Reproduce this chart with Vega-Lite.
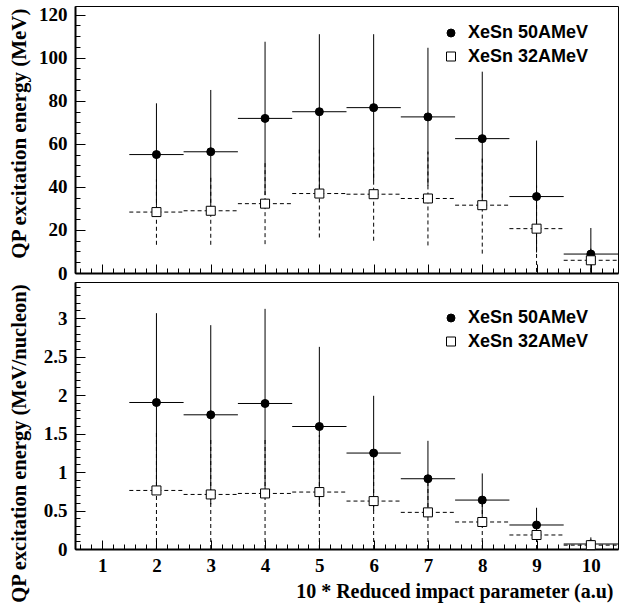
{
  "$schema": "https://vega.github.io/schema/vega-lite/v6.json",
  "padding": {"left": 7, "top": 5, "right": 0, "bottom": 0},
  "autosize": {"type": "pad"},
  "background": "white",
  "bounds": "flush",
  "spacing": 9,
  "datasets": {
    "top": [
      {"s": "XeSn 50AMeV", "b": 2, "blo": 1.5, "bhi": 2.5, "y": 55.0, "lo": 31.2, "hi": 78.8},
      {"s": "XeSn 50AMeV", "b": 3, "blo": 2.5, "bhi": 3.5, "y": 56.3, "lo": 27.6, "hi": 85.0},
      {"s": "XeSn 50AMeV", "b": 4, "blo": 3.5, "bhi": 4.5, "y": 71.8, "lo": 36.2, "hi": 107.4},
      {"s": "XeSn 50AMeV", "b": 5, "blo": 4.5, "bhi": 5.5, "y": 74.9, "lo": 38.9, "hi": 110.9},
      {"s": "XeSn 50AMeV", "b": 6, "blo": 5.5, "bhi": 6.5, "y": 76.8, "lo": 42.7, "hi": 110.9},
      {"s": "XeSn 50AMeV", "b": 7, "blo": 6.5, "bhi": 7.5, "y": 72.5, "lo": 40.4, "hi": 104.6},
      {"s": "XeSn 50AMeV", "b": 8, "blo": 7.5, "bhi": 8.5, "y": 62.4, "lo": 31.3, "hi": 93.5},
      {"s": "XeSn 50AMeV", "b": 9, "blo": 8.5, "bhi": 9.5, "y": 35.5, "lo": 9.5, "hi": 61.5},
      {"s": "XeSn 50AMeV", "b": 10, "blo": 9.5, "bhi": 10.5, "y": 8.8, "lo": 0, "hi": 20.9},
      {"s": "XeSn 32AMeV", "b": 2, "blo": 1.5, "bhi": 2.5, "y": 28.3, "lo": 13.1, "hi": 43.5},
      {"s": "XeSn 32AMeV", "b": 3, "blo": 2.5, "bhi": 3.5, "y": 28.9, "lo": 13.1, "hi": 44.7},
      {"s": "XeSn 32AMeV", "b": 4, "blo": 3.5, "bhi": 4.5, "y": 32.2, "lo": 13.4, "hi": 51.0},
      {"s": "XeSn 32AMeV", "b": 5, "blo": 4.5, "bhi": 5.5, "y": 36.9, "lo": 16.5, "hi": 57.3},
      {"s": "XeSn 32AMeV", "b": 6, "blo": 5.5, "bhi": 6.5, "y": 36.6, "lo": 15.0, "hi": 58.2},
      {"s": "XeSn 32AMeV", "b": 7, "blo": 6.5, "bhi": 7.5, "y": 34.6, "lo": 12.8, "hi": 56.4},
      {"s": "XeSn 32AMeV", "b": 8, "blo": 7.5, "bhi": 8.5, "y": 31.5, "lo": 9.0, "hi": 54.0},
      {"s": "XeSn 32AMeV", "b": 9, "blo": 8.5, "bhi": 9.5, "y": 20.6, "lo": 0.5, "hi": 40.7},
      {"s": "XeSn 32AMeV", "b": 10, "blo": 9.5, "bhi": 10.5, "y": 5.9, "lo": 0.5, "hi": 11.3}
    ],
    "bottom": [
      {"s": "XeSn 50AMeV", "b": 2, "blo": 1.5, "bhi": 2.5, "y": 1.904, "lo": 0.74, "hi": 3.065},
      {"s": "XeSn 50AMeV", "b": 3, "blo": 2.5, "bhi": 3.5, "y": 1.744, "lo": 0.58, "hi": 2.909},
      {"s": "XeSn 50AMeV", "b": 4, "blo": 3.5, "bhi": 4.5, "y": 1.891, "lo": 0.66, "hi": 3.121},
      {"s": "XeSn 50AMeV", "b": 5, "blo": 4.5, "bhi": 5.5, "y": 1.592, "lo": 0.56, "hi": 2.627},
      {"s": "XeSn 50AMeV", "b": 6, "blo": 5.5, "bhi": 6.5, "y": 1.247, "lo": 0.50, "hi": 1.991},
      {"s": "XeSn 50AMeV", "b": 7, "blo": 6.5, "bhi": 7.5, "y": 0.913, "lo": 0.42, "hi": 1.406},
      {"s": "XeSn 50AMeV", "b": 8, "blo": 7.5, "bhi": 8.5, "y": 0.636, "lo": 0.29, "hi": 0.982},
      {"s": "XeSn 50AMeV", "b": 9, "blo": 8.5, "bhi": 9.5, "y": 0.312, "lo": 0.09, "hi": 0.536},
      {"s": "XeSn 50AMeV", "b": 10, "blo": 9.5, "bhi": 10.5, "y": 0.065, "lo": 0.0, "hi": 0.151},
      {"s": "XeSn 32AMeV", "b": 2, "blo": 1.5, "bhi": 2.5, "y": 0.761, "lo": 0, "hi": 1.52},
      {"s": "XeSn 32AMeV", "b": 3, "blo": 2.5, "bhi": 3.5, "y": 0.709, "lo": 0, "hi": 1.42},
      {"s": "XeSn 32AMeV", "b": 4, "blo": 3.5, "bhi": 4.5, "y": 0.722, "lo": 0, "hi": 1.44},
      {"s": "XeSn 32AMeV", "b": 5, "blo": 4.5, "bhi": 5.5, "y": 0.740, "lo": 0, "hi": 1.48},
      {"s": "XeSn 32AMeV", "b": 6, "blo": 5.5, "bhi": 6.5, "y": 0.623, "lo": 0, "hi": 1.24},
      {"s": "XeSn 32AMeV", "b": 7, "blo": 6.5, "bhi": 7.5, "y": 0.476, "lo": 0, "hi": 0.95},
      {"s": "XeSn 32AMeV", "b": 8, "blo": 7.5, "bhi": 8.5, "y": 0.351, "lo": 0, "hi": 0.70},
      {"s": "XeSn 32AMeV", "b": 9, "blo": 8.5, "bhi": 9.5, "y": 0.182, "lo": 0, "hi": 0.36},
      {"s": "XeSn 32AMeV", "b": 10, "blo": 9.5, "bhi": 10.5, "y": 0.05, "lo": 0, "hi": 0.10}
    ]
  },
  "config": {
    "view": {"stroke": "black", "strokeWidth": 1},
    "axis": {
      "labelFont": "Liberation Serif", "labelFontWeight": "bold", "labelFontSize": 19, "labelColor": "black",
      "titleFont": "Liberation Serif", "titleFontWeight": "bold", "titleFontSize": 21, "titleColor": "black",
      "domainColor": "black", "domainWidth": 2, "tickColor": "black", "tickWidth": 1, "grid": false,
      "labelOverlap": false, "labelFlush": false, "labelBound": false
    },
    "legend": {
      "padding": 0,
      "labelFont": "Liberation Sans", "labelFontWeight": "bold", "labelFontSize": 18, "labelColor": "black",
      "symbolStrokeColor": "black", "symbolStrokeWidth": 1,
      "rowPadding": 5.5, "labelOffset": 8
    }
  },
  "resolve": {
    "scale": {"y": "independent", "shape": "independent", "fill": "independent", "size": "independent", "stroke": "independent"}
  },
  "vconcat": [
    {
      "width": 543, "height": 267,
      "data": {"name": "top"},
      "resolve": {"axis": {"x": "independent", "y": "independent"}},
      "layer": [
        {
          "transform": [{"filter": "datum.s === 'XeSn 32AMeV'"}],
          "mark": {"type": "rule", "color": "black", "strokeWidth": 1, "strokeDash": [4, 3]},
          "encoding": {
            "x": {"field": "b", "type": "quantitative",
              "scale": {"domain": [0.5, 10.5], "nice": false, "zero": false},
              "axis": {"orient": "bottom", "values": [1,2,3,4,5,6,7,8,9,10], "labels": false, "title": null, "tickSize": -9}
            },
            "y": {"field": "lo", "type": "quantitative",
              "scale": {"domain": [0, 124], "nice": false, "zero": false},
              "axis": {
                "orient": "left",
                "values": [0,20,40,60,80,100,120],
                "format": "d", "labelPadding": 18, "tickSize": -10,
                "title": "QP excitation energy (MeV)",
                "titleX": -56, "titleY": 2, "titleAlign": "right", "titleBaseline": "middle", "titleAngle": -90
              }
            },
            "y2": {"field": "hi"}
          }
        },
        {
          "transform": [{"filter": "datum.s === 'XeSn 32AMeV'"}],
          "mark": {"type": "rule", "color": "black", "strokeWidth": 1, "strokeDash": [4, 3]},
          "encoding": {
            "x": {"field": "blo", "type": "quantitative",
              "axis": {"orient": "bottom", "values": [0.6,0.8,1.2,1.4,1.6,1.8,2.2,2.4,2.6,2.8,3.2,3.4,3.6,3.8,4.2,4.4,4.6,4.8,5.2,5.4,5.6,5.8,6.2,6.4,6.6,6.8,7.2,7.4,7.6,7.8,8.2,8.4,8.6,8.8,9.2,9.4,9.6,9.8,10.2,10.4],
                "labels": false, "title": null, "domain": false, "tickSize": -5}
            },
            "x2": {"field": "bhi"},
            "y": {"field": "y", "type": "quantitative",
              "axis": {"orient": "left", "values": [5,10,15,25,30,35,45,50,55,65,70,75,85,90,95,105,110,115],
                "labels": false, "title": null, "domain": false, "tickSize": -5}
            }
          }
        },
        {
          "transform": [{"filter": "datum.s === 'XeSn 50AMeV'"}],
          "mark": {"type": "rule", "color": "black", "strokeWidth": 1},
          "encoding": {
            "x": {"field": "b", "type": "quantitative", "axis": null},
            "y": {"field": "lo", "type": "quantitative", "axis": null},
            "y2": {"field": "hi"}
          }
        },
        {
          "transform": [{"filter": "datum.s === 'XeSn 50AMeV'"}],
          "mark": {"type": "rule", "color": "black", "strokeWidth": 1},
          "encoding": {
            "x": {"field": "blo", "type": "quantitative", "axis": null},
            "x2": {"field": "bhi"},
            "y": {"field": "y", "type": "quantitative", "axis": null}
          }
        },
        {
          "mark": {"type": "point", "filled": true, "strokeWidth": 1, "opacity": 1},
          "encoding": {
            "x": {"field": "b", "type": "quantitative", "axis": null},
            "y": {"field": "y", "type": "quantitative", "axis": null},
            "shape": {"field": "s", "type": "nominal", "scale": {"domain": ["XeSn 50AMeV", "XeSn 32AMeV"], "range": ["circle", "square"]},
              "legend": {"orient": "none", "legendX": 367, "legendY": 18, "title": null}},
            "fill": {"field": "s", "type": "nominal", "scale": {"domain": ["XeSn 50AMeV", "XeSn 32AMeV"], "range": ["black", "white"]},
              "legend": {"orient": "none", "legendX": 367, "legendY": 18, "title": null}},
            "stroke": {"field": "s", "type": "nominal", "scale": {"domain": ["XeSn 50AMeV", "XeSn 32AMeV"], "range": ["black", "black"]},
              "legend": {"orient": "none", "legendX": 367, "legendY": 18, "title": null}},
            "size": {"field": "s", "type": "nominal", "scale": {"domain": ["XeSn 50AMeV", "XeSn 32AMeV"], "range": [64, 81]},
              "legend": {"orient": "none", "legendX": 367, "legendY": 18, "title": null}}
          }
        }
      ]
    },
    {
      "width": 543, "height": 267,
      "data": {"name": "bottom"},
      "resolve": {"axis": {"x": "independent", "y": "independent"}},
      "layer": [
        {
          "transform": [{"filter": "datum.s === 'XeSn 32AMeV'"}],
          "mark": {"type": "rule", "color": "black", "strokeWidth": 1, "strokeDash": [4, 3]},
          "encoding": {
            "x": {"field": "b", "type": "quantitative",
              "scale": {"domain": [0.5, 10.5], "nice": false, "zero": false},
              "axis": {"orient": "bottom", "values": [1,2,3,4,5,6,7,8,9,10], "format": "d", "labelPadding": 16, "tickSize": -9,
                "title": "10 * Reduced impact parameter (a.u)", "titleFontSize": 20,
                "titleX": 538, "titleY": 42, "titleAlign": "right", "titleBaseline": "middle"}
            },
            "y": {"field": "lo", "type": "quantitative",
              "scale": {"domain": [0, 3.47], "nice": false, "zero": false},
              "axis": {
                "orient": "left",
                "values": [0,0.5,1,1.5,2,2.5,3],
                "format": "~g", "labelPadding": 18, "tickSize": -10,
                "title": "QP excitation energy (MeV/nucleon)", "titleFontSize": 20.5,
                "titleX": -56, "titleY": 2, "titleAlign": "right", "titleBaseline": "middle", "titleAngle": -90
              }
            },
            "y2": {"field": "hi"}
          }
        },
        {
          "transform": [{"filter": "datum.s === 'XeSn 32AMeV'"}],
          "mark": {"type": "rule", "color": "black", "strokeWidth": 1, "strokeDash": [4, 3]},
          "encoding": {
            "x": {"field": "blo", "type": "quantitative",
              "axis": {"orient": "bottom", "values": [0.6,0.8,1.2,1.4,1.6,1.8,2.2,2.4,2.6,2.8,3.2,3.4,3.6,3.8,4.2,4.4,4.6,4.8,5.2,5.4,5.6,5.8,6.2,6.4,6.6,6.8,7.2,7.4,7.6,7.8,8.2,8.4,8.6,8.8,9.2,9.4,9.6,9.8,10.2,10.4],
                "labels": false, "title": null, "domain": false, "tickSize": -5}
            },
            "x2": {"field": "bhi"},
            "y": {"field": "y", "type": "quantitative",
              "axis": {"orient": "left", "values": [0.1,0.2,0.3,0.4,0.6,0.7,0.8,0.9,1.1,1.2,1.3,1.4,1.6,1.7,1.8,1.9,2.1,2.2,2.3,2.4,2.6,2.7,2.8,2.9,3.1,3.2,3.3,3.4],
                "labels": false, "title": null, "domain": false, "tickSize": -5}
            }
          }
        },
        {
          "transform": [{"filter": "datum.s === 'XeSn 50AMeV'"}],
          "mark": {"type": "rule", "color": "black", "strokeWidth": 1},
          "encoding": {
            "x": {"field": "b", "type": "quantitative", "axis": null},
            "y": {"field": "lo", "type": "quantitative", "axis": null},
            "y2": {"field": "hi"}
          }
        },
        {
          "transform": [{"filter": "datum.s === 'XeSn 50AMeV'"}],
          "mark": {"type": "rule", "color": "black", "strokeWidth": 1},
          "encoding": {
            "x": {"field": "blo", "type": "quantitative", "axis": null},
            "x2": {"field": "bhi"},
            "y": {"field": "y", "type": "quantitative", "axis": null}
          }
        },
        {
          "mark": {"type": "point", "filled": true, "strokeWidth": 1, "opacity": 1},
          "encoding": {
            "x": {"field": "b", "type": "quantitative", "axis": null},
            "y": {"field": "y", "type": "quantitative", "axis": null},
            "shape": {"field": "s", "type": "nominal", "scale": {"domain": ["XeSn 50AMeV", "XeSn 32AMeV"], "range": ["circle", "square"]},
              "legend": {"orient": "none", "legendX": 367, "legendY": 27, "title": null}},
            "fill": {"field": "s", "type": "nominal", "scale": {"domain": ["XeSn 50AMeV", "XeSn 32AMeV"], "range": ["black", "white"]},
              "legend": {"orient": "none", "legendX": 367, "legendY": 27, "title": null}},
            "stroke": {"field": "s", "type": "nominal", "scale": {"domain": ["XeSn 50AMeV", "XeSn 32AMeV"], "range": ["black", "black"]},
              "legend": {"orient": "none", "legendX": 367, "legendY": 27, "title": null}},
            "size": {"field": "s", "type": "nominal", "scale": {"domain": ["XeSn 50AMeV", "XeSn 32AMeV"], "range": [64, 81]},
              "legend": {"orient": "none", "legendX": 367, "legendY": 27, "title": null}}
          }
        }
      ]
    }
  ]
}
